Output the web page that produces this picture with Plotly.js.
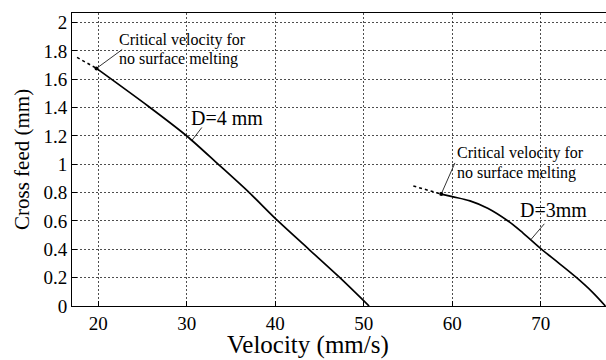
<!DOCTYPE html>
<html><head><meta charset="utf-8">
<script src="https://cdn.plot.ly/plotly-3.0.1.min.js"></script>
<style>
body{margin:0;padding:0;background:#fff}
</style>
</head><body>
<div id="chart" style="width:606px;height:360px"></div>
<script>
// D = 4 mm curve
const velD4 = [19.8, 25.65, 30, 33.56, 37.06, 40.3, 43.8, 47.3, 50.6];
const feedD4 = [1.677, 1.41, 1.2, 1.0, 0.8, 0.6, 0.4, 0.2, 0];
// D = 4 mm extension beyond critical velocity (dashed)
const velD4ext = [17.6, 19.8];
const feedD4ext = [1.755, 1.677];
// D = 3 mm curve
const velD3 = [58.75, 60, 62, 64, 66.3, 68, 70.1, 72, 74.05, 75.8, 77.3];
const feedD3 = [0.79, 0.772, 0.742, 0.69, 0.6, 0.515, 0.4, 0.305, 0.2, 0.1, 0];
// D = 3 mm extension (dashed)
const velD3ext = [55.6, 58.75];
const feedD3ext = [0.847, 0.79];
// critical points
const critVel = [19.8, 58.75];
const critFeed = [1.677, 0.79];

const xTicks = [20, 30, 40, 50, 60, 70];
const yTicks = [0, 0.2, 0.4, 0.6, 0.8, 1, 1.2, 1.4, 1.6, 1.8, 2];
const yTickText = ['0', '0.2', '0.4', '0.6', '0.8', '1', '1.2', '1.4', '1.6', '1.8', '2'];

const FONT = 'Liberation Serif';

const traces = [
  {x: velD4, y: feedD4, mode: 'lines', line: {color: '#000', width: 1.7, shape: 'spline', smoothing: 0.8}, showlegend: false},
  {x: velD4ext, y: feedD4ext, mode: 'lines', line: {color: '#000', width: 1.5, dash: 'dot'}, showlegend: false},
  {x: velD3, y: feedD3, mode: 'lines', line: {color: '#000', width: 1.7, shape: 'spline', smoothing: 1}, showlegend: false},
  {x: velD3ext, y: feedD3ext, mode: 'lines', line: {color: '#000', width: 1.5, dash: 'dot'}, showlegend: false},
  {x: critVel, y: critFeed, mode: 'markers', marker: {color: '#000', size: 4}, showlegend: false}
];

const leader = (x0, y0, x1, y1) => ({type: 'line', xref: 'x', yref: 'y', x0, y0, x1, y1, line: {color: '#000', width: 0.8}});

const txt = (x, y, text, size) => ({x, y, xref: 'x', yref: 'y', text, showarrow: false, xanchor: 'left', yanchor: 'middle', font: {family: FONT, size, color: '#000'}});

// pixel helpers for titles (plot area: x 72..606, y 13..306)
const px = v => (v - 72) / (606 - 72);
const py = v => (306 - v) / (306 - 13);

const layout = {
  width: 606, height: 360,
  margin: {l: 72, r: 0, t: 13, b: 54},
  paper_bgcolor: '#fff', plot_bgcolor: '#fff',
  xaxis: {
    range: [17.03, 77.37], tickvals: xTicks, ticktext: xTicks.map(String),
    showgrid: true, gridcolor: '#222', griddash: '2px,2px', gridwidth: 0.8,
    showline: true, linecolor: '#000', linewidth: 1, mirror: true,
    ticks: 'inside', ticklen: 5, tickcolor: '#000',
    tickfont: {family: FONT, size: 19, color: '#000'}, zeroline: false
  },
  yaxis: {
    range: [0, 2.068], tickvals: yTicks, ticktext: yTickText,
    showgrid: true, gridcolor: '#222', griddash: '2px,2px', gridwidth: 0.8,
    showline: true, linecolor: '#000', linewidth: 1,
    ticks: 'inside', ticklen: 5, tickcolor: '#000',
    tickfont: {family: FONT, size: 19, color: '#000'}, zeroline: false
  },
  shapes: [
    leader(19.8, 1.677, 22.7, 1.81),
    leader(30.6, 1.17, 31.7, 1.26),
    leader(68.9, 0.47, 70.4, 0.58),
    leader(58.75, 0.79, 60.3, 1.01)
  ],
  annotations: [
    txt(22.1, 1.877, 'Critical velocity for', 16),
    txt(22.1, 1.743, 'no surface melting', 16),
    txt(30.25, 1.327, 'D=4 mm', 20),
    txt(67.4, 0.677, 'D=3mm', 20),
    txt(60.3, 1.082, 'Critical velocity for', 16),
    txt(60.3, 0.94, 'no surface melting', 16),
    {x: px(308), y: py(345), xref: 'paper', yref: 'paper', xanchor: 'center', yanchor: 'middle',
     text: 'Velocity (mm/s)', showarrow: false, font: {family: FONT, size: 25, color: '#000'}},
    {x: px(22), y: py(160), xref: 'paper', yref: 'paper', xanchor: 'center', yanchor: 'middle',
     text: 'Cross feed (mm)', textangle: -90, showarrow: false, font: {family: FONT, size: 21, color: '#000'}}
  ]
};
Plotly.newPlot('chart', traces, layout, {displayModeBar: false, staticPlot: true});
</script>
</body></html>
